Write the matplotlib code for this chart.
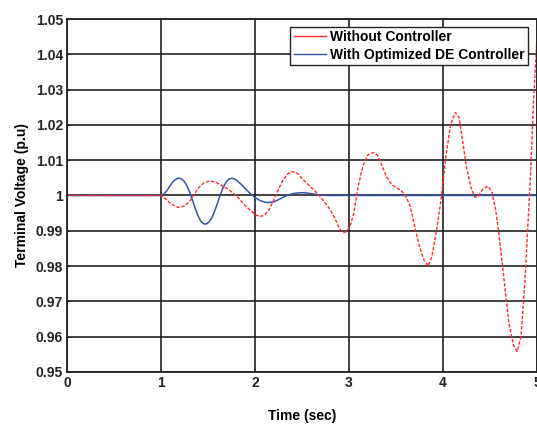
import numpy as np
import matplotlib
matplotlib.use('Agg')
import matplotlib.pyplot as plt
from matplotlib.lines import Line2D

# Valores (tempo em s, tensão em p.u)
t_sem = [0.0, 1.0, 1.05, 1.1, 1.18, 1.25, 1.3, 1.35, 1.4, 1.45, 1.5, 1.55, 1.6, 1.7,
         1.8, 1.9, 2.0, 2.05, 2.1, 2.15, 2.2, 2.25, 2.3, 2.35, 2.39, 2.45, 2.5, 2.6,
         2.7, 2.8, 2.85, 2.9, 2.94, 2.98, 3.02, 3.05, 3.1, 3.15, 3.2, 3.26, 3.3,
         3.35, 3.4, 3.45, 3.5, 3.55, 3.6, 3.65, 3.7, 3.75, 3.8, 3.84, 3.88, 3.93,
         3.98, 4.03, 4.08, 4.13, 4.17, 4.2, 4.25, 4.3, 4.34, 4.38, 4.43, 4.48, 4.52,
         4.56, 4.6, 4.65, 4.7, 4.75, 4.79, 4.83, 4.87, 4.9, 4.93, 4.96, 5.0]
v_sem = [1.0, 1.0, 0.9990, 0.9977, 0.9966, 0.9970, 0.9982, 1.0002, 1.0022, 1.0035,
         1.0040, 1.0040, 1.0035, 1.0020, 1.0000, 0.9970, 0.9946, 0.9940, 0.9944,
         0.9960, 0.9988, 1.0018, 1.0045, 1.0062, 1.0068, 1.0063, 1.0048, 1.0022,
         0.9995, 0.9960, 0.9935, 0.9905, 0.9895, 0.9898, 0.9920, 0.9950, 1.0030,
         1.0085, 1.0115, 1.0122, 1.0115, 1.0085, 1.0052, 1.0032, 1.0022, 1.0015,
         1.0000, 0.9970, 0.9910, 0.9855, 0.9815, 0.9800, 0.9825, 0.9900, 0.9990,
         1.0110, 1.0200, 1.0235, 1.0222, 1.0170, 1.0080, 1.0020, 0.9995, 1.0000,
         1.0020, 1.0026, 1.0010, 0.9960, 0.9880, 0.9760, 0.9640, 0.9575, 0.9558,
         0.9600, 0.9750, 0.9900, 1.0050, 1.0250, 1.0450]

t_de = [0.0, 1.0, 1.03, 1.06, 1.09, 1.12, 1.15, 1.18, 1.21, 1.24, 1.27, 1.30, 1.33,
        1.36, 1.39, 1.42, 1.45, 1.48, 1.51, 1.54, 1.57, 1.60, 1.63, 1.66, 1.69,
        1.72, 1.75, 1.78, 1.81, 1.85, 1.9, 1.95, 2.0, 2.05, 2.1, 2.15, 2.2, 2.25,
        2.3, 2.35, 2.4, 2.45, 2.5, 2.55, 2.6, 2.65, 2.7, 2.75, 5.0]
v_de = [1.0, 1.0, 1.0004, 1.0013, 1.0025, 1.0037, 1.0045, 1.0049, 1.0048, 1.0042,
        1.0030, 1.0012, 0.9990, 0.9966, 0.9944, 0.9928, 0.9920, 0.9919, 0.9925,
        0.9937, 0.9956, 0.9978, 1.0002, 1.0022, 1.0037, 1.0046, 1.0049, 1.0047,
        1.0042, 1.0032, 1.0018, 1.0005, 0.9994, 0.9986, 0.9981, 0.9980, 0.9982,
        0.9988, 0.9995, 1.0001, 1.0005, 1.0007, 1.0008, 1.0007, 1.0005, 1.0003,
        1.0001, 1.0, 1.0]

vermelho = '#ff2a2a'
azul = '#3553a8'

plt.rcParams['font.family'] = ['Liberation Sans', 'DejaVu Sans']
plt.rcParams['font.weight'] = 'bold'

fig = plt.figure(figsize=(5.37, 4.24), dpi=100)
ax = fig.add_axes([0.125, 0.123, 0.875, 0.832])

ax.plot(t_de, v_de, color=azul, linewidth=1.1)
ax.plot(t_sem, v_sem, color=vermelho, linewidth=1.0, linestyle=(0, (2.5, 1.2)))

ax.set_xlim(0, 5)
ax.set_ylim(0.95, 1.05)
ax.set_xticks([0, 1, 2, 3, 4, 5])
ax.set_xticklabels(['0', '1', '2', '3', '4', '5'])
ax.set_yticks(np.arange(0.95, 1.0501, 0.01))
ax.set_yticklabels(['0.95', '0.96', '0.97', '0.98', '0.99', '1',
                    '1.01', '1.02', '1.03', '1.04', '1.05'])
ax.grid(True, color='#222222', linewidth=1.2)
ax.tick_params(direction='in', length=2, labelsize=10, colors='#222222', pad=3)
for s in ax.spines.values():
    s.set_linewidth(1.3)
    s.set_color('#222222')

ax.set_xlabel('Time (sec)', fontsize=10, fontweight='bold', labelpad=14)
ax.set_ylabel('Terminal Voltage (p.u)', fontsize=10, fontweight='bold', labelpad=5)

alcas = [Line2D([], [], color=vermelho, linewidth=1.0),
         Line2D([], [], color=azul, linewidth=1.0)]
leg = ax.legend(alcas, ['Without Controller', 'With Optimized DE Controller'],
                loc='upper right', fontsize=10, fancybox=False, framealpha=1,
                edgecolor='#222222', borderpad=0.25, labelspacing=0.25,
                handlelength=2.3, handletextpad=0.3, borderaxespad=0.3,
                bbox_to_anchor=(0.99, 0.99))
leg.get_frame().set_linewidth(1.0)

fig.savefig('out.png', dpi=100)
